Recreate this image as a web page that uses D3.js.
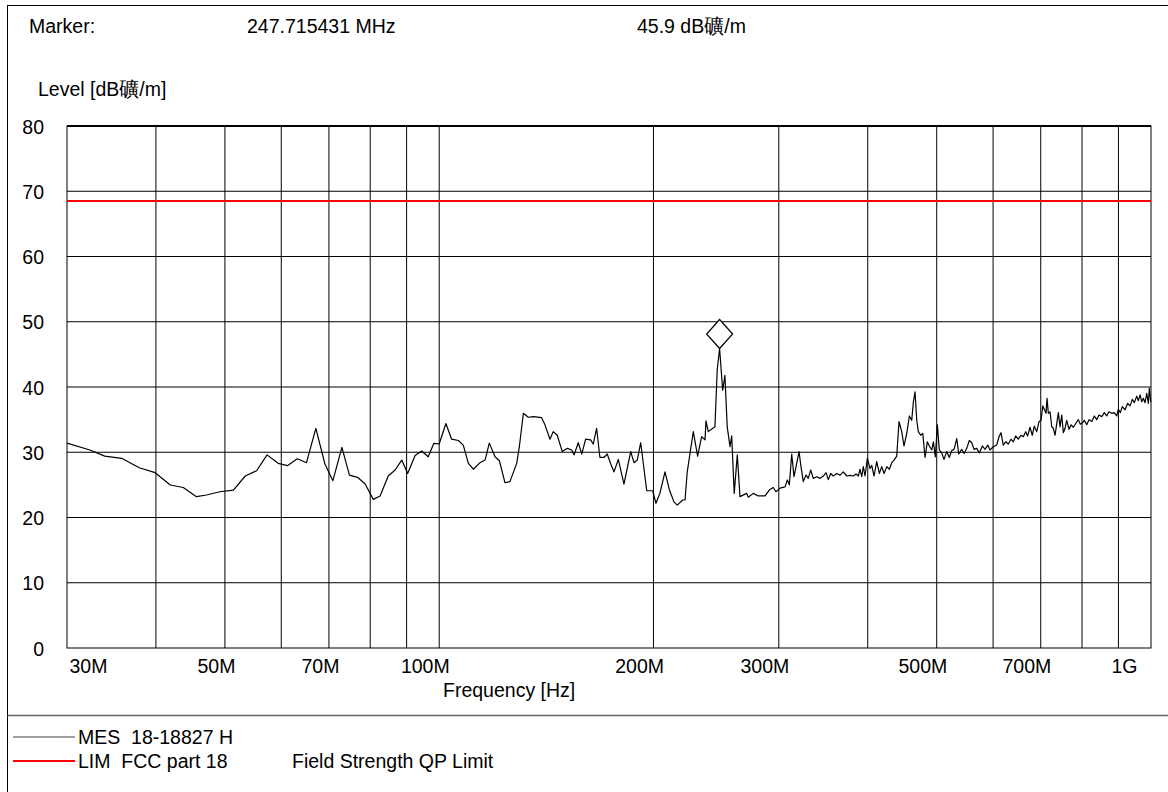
<!DOCTYPE html>
<html><head><meta charset="utf-8">
<script src="https://cdn.jsdelivr.net/npm/d3@7"></script>
<style>
body{margin:0;background:#fff}
svg text{font-family:"Liberation Sans",Arial,sans-serif;font-size:19.5px;fill:#000;white-space:pre}
</style>
</head><body>
<svg id="c" width="1168" height="792"></svg>
<script>
// ---- data ----
const freqMHz = [
30.0,32.3,33.9,35.8,37.9,39.9,41.9,43.7,45.6,47.1,49.2,51.4,53.4,55.4,57.3,59.4,61.2,63.2,65.1,67.1,
69.1,70.9,73.0,74.8,76.8,78.7,80.8,82.6,84.8,86.7,88.6,90.3,92.5,94.5,96.5,98.3,100.0,
102.2,104.1,106.4,108.1,109.9,111.7,114.1,116.0,117.6,119.8,121.5,123.7,125.7,128.5,129.6,131.3,133.4,135.6,139.3,140.8,
143.1,144.6,146.5,148.9,151.4,153.5,154.7,156.8,158.6,160.6,163.2,164.6,166.4,168.2,170.4,172.2,174.2,176.0,178.5,181.8,
185.8,187.8,189.8,191.9,195.7,
199.5,201.6,204.2,207.6,210.5,213.7,216.0,219.8,221.5,223.1,227.5,230.7,233.7,236.3,237.0,238.8,244.0,245.8,247.7,250.2,
252.0,253.9,256.2,257.6,259.7,262.3,264.6,270.4,271.8,276.2,280.7,286.9,291.5,294.7,297.3,
301.2,306.1,308.4,310.4,312.8,315.1,317.2,320.3,322.3,324.7,327.6,330.0,332.6,335.4,339.1,342.8,346.5,349.5,352.1,354.8,
357.8,361.8,365.7,369.6,373.7,377.7,381.8,385.1,388.0,390.1,392.3,394.3,396.5,
399.5,403.0,405.2,408.2,411.8,415.3,418.5,421.7,425.4,429.0,432.3,435.5,439.3,442.6,446.5,449.8,453.8,457.6,461.2,463.6,
466.1,468.7,471.1,474.8,477.9,481.5,485.0,488.2,492.0,494.6,497.8,
501.0,504.2,508.2,511.9,516.4,520.8,524.8,528.8,533.4,536.9,542.1,546.2,551.0,555.6,560.0,564.1,569.1,573.9,579.5,584.6,
589.7,594.1,
600.4,607.0,611.6,615.5,620.1,624.9,630.2,635.8,640.5,645.5,650.9,656.7,661.6,666.7,671.0,676.1,681.1,685.5,690.9,696.1,
700.7,704.5,708.2,712.1,714.4,717.4,721.4,725.4,729.1,733.2,737.2,741.0,745.1,749.2,753.1,757.3,761.4,767.1,772.1,777.8,
783.9,790.5,795.7,
800.8,806.0,812.3,818.4,825.5,832.5,838.9,845.2,852.7,859.9,866.6,873.0,880.6,888.1,895.0,
899.7,905.6,911.4,919.4,927.5,934.4,941.4,947.5,954.9,959.9,965.2,970.5,975.5,980.9,986.3,991.4,994.6,999.1,1000
];
const levelDb = [
31.4,30.35,29.4,29.07,27.63,26.87,24.98,24.6,23.19,23.45,23.95,24.2,26.36,27.17,29.6,28.3,27.94,29.0,28.4,33.67,
28.2,25.64,30.75,26.5,26.16,25.13,22.78,23.3,26.36,27.28,28.8,26.75,29.5,30.2,29.3,31.37,31.26,
34.4,32.0,31.8,31.1,28.3,27.4,28.4,28.8,31.4,29.3,28.7,25.33,25.5,28.3,30.85,35.97,35.36,35.46,35.3,34.2,
32.0,33.16,32.6,30.1,30.6,30.35,29.6,31.46,29.73,32.0,31.9,31.26,33.67,29.2,29.2,29.73,28.2,27.0,28.9,25.13,
30.1,28.4,28.8,31.46,24.1,
24.1,22.17,23.7,27.0,24.3,22.4,21.9,22.68,22.68,27.0,33.16,29.4,32.4,31.9,34.8,33.16,33.9,42.6,45.9,39.5,
41.8,33.9,30.85,32.5,23.7,29.6,23.2,23.7,23.1,23.7,23.3,23.3,24.3,24.6,23.95,
24.5,24.7,25.75,25.0,29.73,26.25,27.8,30.1,27.8,25.5,26.5,26.0,27.28,26.0,26.25,26.0,26.36,26.87,25.8,26.75,
26.36,26.75,26.5,27.0,26.36,26.45,26.36,26.67,26.36,27.4,26.25,27.8,26.36,
29.07,27.5,28.0,26.36,28.55,26.75,27.8,26.75,27.8,27.4,28.4,28.8,29.4,34.7,33.16,30.96,32.9,35.56,34.9,37.7,
39.27,34.9,33.16,32.6,32.9,29.2,31.6,30.96,30.35,31.6,29.3,
34.2,30.35,29.9,28.9,30.1,29.2,30.25,30.45,32.1,29.73,30.45,29.8,30.6,31.8,31.46,30.45,30.6,29.9,30.96,30.45,
31.1,30.35,
30.85,31.1,32.37,33.0,31.1,31.6,31.26,32.0,31.6,32.5,32.0,32.6,32.37,33.16,32.5,33.83,32.6,34.0,33.16,34.7,
34.9,37.1,36.6,35.97,38.27,35.97,36.2,33.9,33.67,32.6,34.4,36.07,33.9,35.7,33.0,33.67,34.9,33.52,34.2,33.83,
34.4,35.0,34.3,
34.5,34.9,34.2,35.0,34.7,35.56,35.0,35.7,35.46,36.07,35.56,36.2,35.97,36.07,35.56,
36.6,36.07,37.0,36.5,37.5,37.1,38.1,37.6,38.6,37.9,38.8,37.75,38.27,37.6,39.04,37.5,39.8,37.75,37.8
];
const limitDb = 68.5;
const markerFreqMHz = 247.715431;
const markerLevelDb = 45.9;
const yTicks = [0,10,20,30,40,50,60,70,80];
const xGridMHz = [40,50,60,70,80,90,100,200,300,400,500,600,700,800,900];
const xTickMHz = [30,50,70,100,200,300,500,700,1000];
const xTickLabels = ["30M","50M","70M","100M","200M","300M","500M","700M","1G"];
const unit = "dB礦/m";
const legendNames = ["MES  18-18827 H","LIM  FCC part 18"];
const legendNotes = ["","Field Strength QP Limit"];
const legendColors = ["#808080","#ff0000"];

// ---- layout ----
const svg = d3.select("#c");
const L = 67, R = 1151, T = 126, B = 648;
const x = d3.scaleLog().domain([30,1000]).range([L,R]);
const y = d3.scaleLinear().domain([0,80]).range([B,T]);

svg.append("rect").attr("width",1168).attr("height",792).attr("fill","#fff");

// outer frame
svg.append("line").attr("x1",7.5).attr("x2",7.5).attr("y1",5).attr("y2",792).attr("stroke","#000");
svg.append("line").attr("x1",7).attr("x2",1168).attr("y1",5.5).attr("y2",5.5).attr("stroke","#000");
svg.append("line").attr("x1",7.5).attr("x2",1168).attr("y1",715.5).attr("y2",715.5).attr("stroke","#666").attr("stroke-width",1.5);

// header
svg.append("text").attr("x",29).attr("y",33).text("Marker:");
svg.append("text").attr("x",247).attr("y",33).text(markerFreqMHz + " MHz");
svg.append("text").attr("x",637).attr("y",33).text(markerLevelDb.toFixed(1) + " " + unit);
svg.append("text").attr("x",38).attr("y",96).text("Level [" + unit + "]");

// grid
const g = svg.append("g");
g.selectAll(".hg").data(yTicks.filter(d=>d>0 && d<80)).join("line")
  .attr("x1",L).attr("x2",R).attr("y1",d=>y(d)).attr("y2",d=>y(d))
  .attr("stroke","#000").attr("stroke-width",1);
g.selectAll(".vg").data(xGridMHz).join("line")
  .attr("x1",d=>x(d)).attr("x2",d=>x(d)).attr("y1",T).attr("y2",B)
  .attr("stroke","#000").attr("stroke-width",1);
g.append("rect").attr("x",L).attr("y",T).attr("width",R-L).attr("height",B-T)
  .attr("fill","none").attr("stroke","#000").attr("stroke-width",1);
g.append("line").attr("x1",L).attr("x2",R).attr("y1",T).attr("y2",T).attr("stroke","#000").attr("stroke-width",2);

// y axis labels
const ya = svg.append("g").attr("transform",`translate(${L},0)`)
  .call(d3.axisLeft(y).tickValues(yTicks).tickSize(0).tickPadding(23));
ya.select(".domain").remove();
ya.attr("font-size",null).attr("font-family",null);
ya.selectAll("text").attr("dy","0.36em");

// x axis labels
const xa = svg.append("g").attr("transform",`translate(0,${B})`)
  .call(d3.axisBottom(x).tickValues(xTickMHz).tickFormat((d,i)=>xTickLabels[i]).tickSize(0).tickPadding(0));
xa.select(".domain").remove();
xa.attr("font-size",null).attr("font-family",null);
xa.selectAll("text").attr("dy",null).attr("y",25)
  .each(function(d,i){
    const t = d3.select(this);
    if(i===0){ t.attr("text-anchor","start").attr("x",2); }
    else if(i===xTickMHz.length-1){ t.attr("text-anchor","end").attr("x",-14); }
    else { t.attr("text-anchor","end").attr("x",10); }
  });
svg.append("text").attr("x",443).attr("y",697).text("Frequency [Hz]");

// limit line
svg.append("line").attr("x1",L).attr("x2",R).attr("y1",y(limitDb)).attr("y2",y(limitDb))
  .attr("stroke","#ff0000").attr("stroke-width",2);

// trace
const pts = freqMHz.map((f,i)=>[f,levelDb[i]]);
svg.append("path").datum(pts)
  .attr("d",d3.line().x(d=>x(d[0])).y(d=>y(d[1])))
  .attr("fill","none").attr("stroke","#000").attr("stroke-width",1.2).attr("stroke-linejoin","round");

// marker diamond
const mx = x(markerFreqMHz), my = y(markerLevelDb);
const p = d3.path();
p.moveTo(mx,my); p.lineTo(mx+13,my-14.5); p.lineTo(mx,my-29); p.lineTo(mx-13,my-14.5); p.closePath();
svg.append("path").attr("d",p.toString()).attr("fill","#fff").attr("stroke","#000").attr("stroke-width",1.2);

// legend
const lg = svg.selectAll(".lg").data(legendNames).join("g")
  .attr("transform",(d,i)=>`translate(0,${737+i*24})`);
lg.append("line").attr("x1",13).attr("x2",75).attr("y1",0).attr("y2",0)
  .attr("stroke",(d,i)=>legendColors[i]).attr("stroke-width",(d,i)=>i? 2:1.5);
lg.append("text").attr("x",78).attr("y",7).text(d=>d);
lg.append("text").attr("x",292).attr("y",7).text((d,i)=>legendNotes[i]);
</script>
</body></html>
